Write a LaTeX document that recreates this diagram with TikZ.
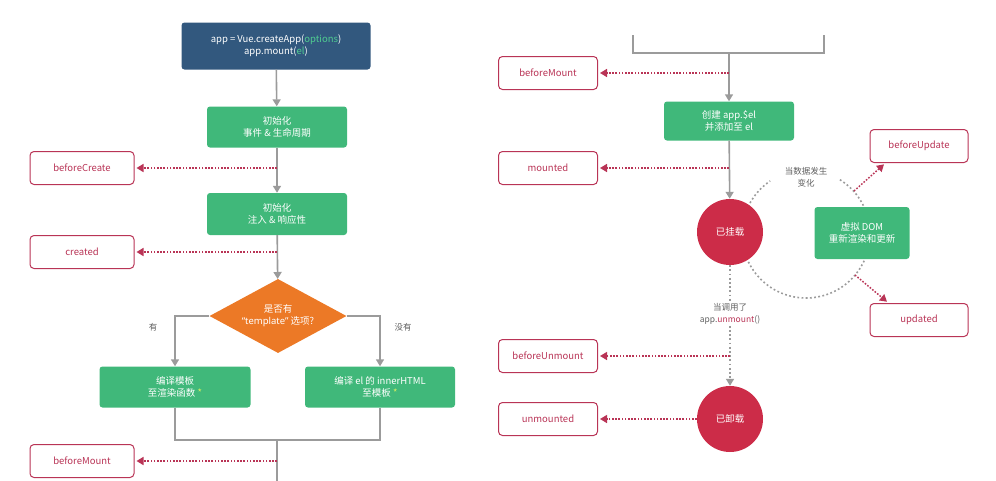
\documentclass[tikz,border=0pt]{standalone}
\usepackage{fontspec}
\setmainfont{Noto Sans CJK SC}
\newfontfamily\latinfont{Noto Sans}
\usepackage{xcolor}
\usepackage{tikz}
\usetikzlibrary{shapes.geometric, arrows.meta, positioning}
\definecolor{vuegreen}{RGB}{64,184,122}
\definecolor{vuenavy}{RGB}{50,88,126}
\definecolor{hookred}{RGB}{185,52,86}
\definecolor{stopred}{RGB}{204,44,72}
\definecolor{forkorange}{RGB}{236,121,38}
\definecolor{flowgray}{RGB}{155,155,155}
\definecolor{optgreen}{RGB}{80,205,145}
\definecolor{starlime}{RGB}{215,240,95}

\tikzset{
  stepbox/.style={rectangle, rounded corners=3pt, fill=vuegreen, text=white, align=center, inner sep=2pt, font=\fontsize{9.5}{12}\selectfont},
  hookbox/.style={rectangle, rounded corners=4pt, draw=hookred, line width=1pt, fill=white, text=hookred, minimum height=33pt, font=\fontsize{9.5}{12}\selectfont},
  statedot/.style={circle, fill=stopred, text=white, minimum size=66pt, inner sep=0pt, font=\fontsize{9.5}{12}\selectfont},
  forkbox/.style={diamond, fill=forkorange, text=white, align=center, inner sep=0pt, aspect=1.85, minimum width=137pt, minimum height=74pt, font=\fontsize{9.5}{12}\selectfont},
  note/.style={text=gray!75!black, align=center, font=\fontsize{8.5}{12}\selectfont},
  flowline/.style={draw=flowgray, line width=1.6pt},
  flow/.style={flowline, -{Triangle[length=7pt, width=8pt]}},
  hook/.style={draw=hookred, line width=1.5pt, dash pattern=on 1.6pt off 1.6pt, -{Triangle[length=7pt, width=8pt]}, shorten >=2pt},
  loopdots/.style={draw=flowgray, line width=1.6pt, dash pattern=on 1.8pt off 2.4pt},
}

\begin{document}
\begin{tikzpicture}[x=1pt, y=-1pt]
  \useasboundingbox (0,0) rectangle (996,480);
  \begin{scope}
    \node[stepbox, fill=vuenavy, minimum width=189pt, minimum height=47pt] (app) at (276,46)
        {app = Vue.createApp(\textcolor{optgreen}{options})\\app.mount(\textcolor{optgreen}{el})};
    \node[stepbox, minimum width=140pt, minimum height=41pt] (initevt) at (277,127) {初始化\\事件 \& 生命周期};
    \node[stepbox, minimum width=140pt, minimum height=42pt] (initinj) at (277,214) {初始化\\注入 \& 响应性};
    \node[forkbox] (tpl) at (278,316) {是否有\\{\latinfont “template”} 选项?};
    \node[stepbox, minimum width=151pt, minimum height=41pt] (render) at (175,387) {编译模板\\至渲染函数 \textcolor{starlime}{*}};
    \node[stepbox, minimum width=150pt, minimum height=41pt] (inner) at (380,387) {编译 el 的 innerHTML\\至模板 \textcolor{starlime}{*}};
    \node[note] (haslbl) at (153,327) {有};
    \node[note] (nolbl) at (403,327) {没有};
    \node[hookbox, minimum width=104pt] (bc) at (82,168) {beforeCreate};
    \node[hookbox, minimum width=104pt] (cr) at (82,252) {created};
    \node[hookbox, minimum width=104pt] (bml) at (82,461) {beforeMount};
    \coordinate (join) at (277,440);
    \coordinate (tail) at (277,482);
    \draw[flow] (app) -- (initevt);
    \draw[flow] (initevt) -- (initinj);
    \draw[flow] (initinj) -- (tpl);
    \draw[flow] (tpl.west) -| (render);
    \draw[flow] (tpl.east) -| (inner);
    \draw[flowline] (render.south) |- (join) -| (inner.south);
    \draw[flowline] (join) -- (tail);
    \draw[hook] (initevt |- bc) -- (bc);
    \draw[hook] (initinj |- cr) -- (cr);
    \draw[hook] (join |- bml) -- (bml);
  \end{scope}
  \begin{scope}
    \coordinate (brl) at (633,35);
    \coordinate (brmid) at (729,53);
    \coordinate (brr) at (824,35);
    \coordinate (loop) at (806,234);
    \coordinate (uptap) at (854,191);
    \coordinate (dntap) at (855,275);
    \draw[loopdots] (loop) ++(58:64pt) arc[start angle=58, end angle=-236, radius=64pt];
    \node[stepbox, minimum width=130pt, minimum height=39pt] (mkel) at (729,121) {创建 app.\$el\\并添加至 el};
    \node[statedot] (mounted) at (730,232) {已挂载};
    \node[statedot] (gone) at (730,419) {已卸载};
    \node[stepbox, minimum width=95pt, minimum height=52pt] (vdom) at (862,233) {虚拟 DOM\\重新渲染和更新};
    \node[note] (datachg) at (806,177) {当数据发生\\变化};
    \node[note, fill=white, inner sep=1pt] (unmt) at (730,314) {当调用了\\app.\textcolor{hookred}{unmount}()};
    \node[hookbox, minimum width=99pt] (bmr) at (548,73) {beforeMount};
    \node[hookbox, minimum width=99pt] (mt) at (548,168) {mounted};
    \node[hookbox, minimum width=99pt] (bum) at (548,356) {beforeUnmount};
    \node[hookbox, minimum width=99pt] (um) at (548,419) {unmounted};
    \node[hookbox, minimum width=98pt] (bu) at (919,146) {beforeUpdate};
    \node[hookbox, minimum width=98pt] (upd) at (919,320) {updated};
    \draw[flowline] (brl) |- (brmid) -| (brr);
    \draw[flow] (brmid) -- (mkel);
    \draw[flow] (mkel) -- (mounted);
    \draw[loopdots] (mounted) -- (unmt);
    \draw[loopdots, -{Triangle[length=7pt, width=8pt]}] (unmt) -- (gone);
    \draw[hook] (brmid |- bmr) -- (bmr);
    \draw[hook] (mkel |- mt) -- (mt);
    \draw[hook] (unmt |- bum) -- (bum);
    \draw[hook] (gone) -- (um);
    \draw[hook] (uptap) -- ([xshift=16pt]bu.south west);
    \draw[hook] (dntap) -- ([xshift=19pt]upd.north west);
  \end{scope}
\end{tikzpicture}
\end{document}
